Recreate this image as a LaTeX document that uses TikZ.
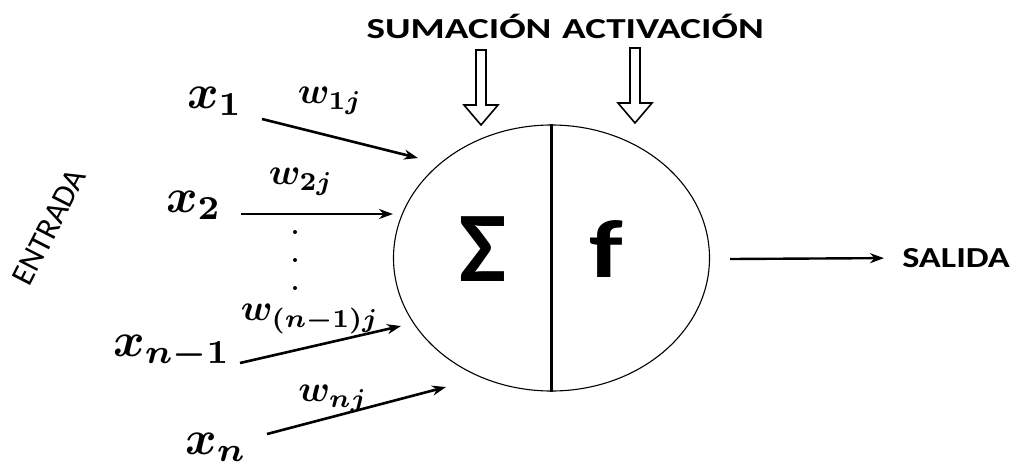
\documentclass[tikz,border=0pt]{standalone}
\usepackage{fontspec}
\setsansfont{Carlito}
\usepackage{amsmath}
\usepackage{bm}
\usetikzlibrary{shapes.geometric,arrows.meta}
\tikzset{
  mathlbl/.style={inner sep=0pt, scale=4.8},
  wlbl/.style={inner sep=0pt, scale=3.7},
  caplbl/.style={inner sep=0pt, xscale=1.35, font=\sffamily\bfseries\fontsize{29}{32}\selectfont},
  inarrow/.style={line width=2.6pt, -{Stealth[length=14pt,width=10pt]}},
  hollow/.style={draw, line width=1.6pt, fill=white, line join=miter},
}
\begin{document}
\begin{tikzpicture}[x=1pt,y=-1pt]
\useasboundingbox (0,0) rectangle (1016,475);
% neuron
\node[ellipse, draw, line width=1.1pt, minimum width=316pt, minimum height=266pt, inner sep=0pt] (neuron) at (551.5,258) {};
\draw[line width=3pt] (neuron.north) -- (neuron.south);
\node[inner sep=0pt, font=\sffamily\bfseries\fontsize{100}{110}\selectfont] (sigma) at (483,249) {Σ};
\node[inner sep=0pt, xscale=1.3, font=\sffamily\bfseries\fontsize{82}{90}\selectfont] (f) at (606,249) {f};
% top labels
\node[caplbl] (suma) at (459,26) {SUMACIÓN};
\node[caplbl] (acti) at (663,26) {ACTIVACIÓN};
% hollow arrows
\draw[hollow] (476,50) -- (486,50) -- (486,105) -- (498,105) -- (481,125) -- (464,105) -- (476,105) -- cycle;
\draw[hollow] (630,48) -- (640,48) -- (640,103) -- (652,103) -- (635,123) -- (618,103) -- (630,103) -- cycle;
% inputs
\node[mathlbl] (x1) at (215,101) {$\bm{x}_{\bm{1}}$};
\node[mathlbl] (x2) at (194,205) {$\bm{x}_{\bm{2}}$};
\node[mathlbl] (xn1) at (172,352) {$\bm{x}_{\bm{n}\bm{-}\bm{1}}$};
\node[mathlbl] (xn) at (216,447) {$\bm{x}_{\bm{n}}$};
\node[wlbl] (w1) at (330,101) {$\bm{w}_{\bm{1}\bm{j}}$};
\node[wlbl] (w2) at (301,182) {$\bm{w}_{\bm{2}\bm{j}}$};
\node[wlbl] (wn1) at (310,319) {$\bm{w}_{\bm{(}\bm{n}\bm{-}\bm{1}\bm{)}\bm{j}}$};
\node[wlbl] (wn) at (333,399) {$\bm{w}_{\bm{n}\bm{j}}$};
% dots
\foreach \yy in {232,260,288} \fill (295,\yy) circle (2pt);
% arrows
\coordinate (a1s) at (262,119); \coordinate (a1e) at (418,158);
\coordinate (a2s) at (241,214); \coordinate (a2e) at (393,214);
\coordinate (a3s) at (240,363); \coordinate (a3e) at (401,326);
\coordinate (a4s) at (267,434); \coordinate (a4e) at (446,387);
\draw[inarrow] (a1s) -- (a1e);
\draw[inarrow] (a2s) -- (a2e);
\draw[inarrow] (a3s) -- (a3e);
\draw[inarrow] (a4s) -- (a4e);
% entrada
\node[inner sep=0pt, rotate=63, font=\sffamily\fontsize{32}{36}\selectfont] (entrada) at (49,227) {ENTRADA};
% salida
\node[inner sep=0pt, xscale=1.25, anchor=west, font=\sffamily\bfseries\fontsize{29}{32}\selectfont] (salida) at (902,258) {SALIDA};
\coordinate (os) at (730,259);
\draw[line width=2.4pt, -{Stealth[length=14pt,width=10pt]}, shorten >=18pt] (os) -- (salida.west);
\end{tikzpicture}
\end{document}
